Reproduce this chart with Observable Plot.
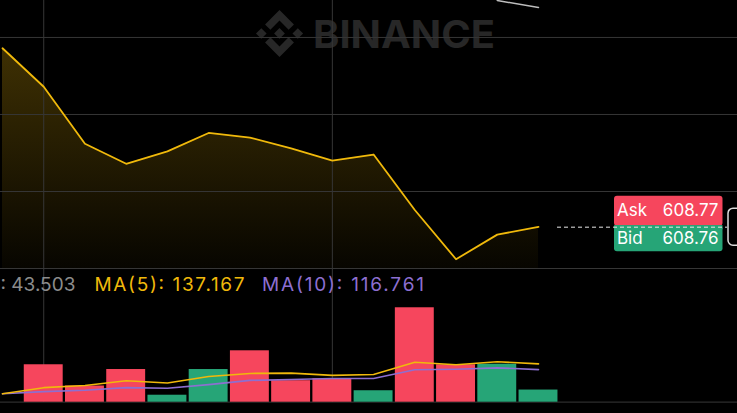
<!DOCTYPE html>
<html>
<head>
<meta charset="utf-8">
<script src="https://cdn.jsdelivr.net/npm/d3@7"></script>
<script src="https://cdn.jsdelivr.net/npm/@observablehq/plot@0.6"></script>
<style>
  html, body { margin: 0; padding: 0; background: #000; }
  #wrap { position: relative; width: 737px; height: 413px; overflow: hidden; background: #000; }
  #wrap > svg { position: absolute; left: 0; }
</style>
</head>
<body>
<div id="wrap"></div>
<script>
// ---- data ----
const candleIndex = [0, 1, 2, 3, 4, 5, 6, 7, 8, 9, 10, 11, 12, 13];
const closePrices = [609.93, 609.68, 609.31, 609.18, 609.26, 609.38, 609.35, 609.28, 609.20, 609.24, 608.88, 608.56, 608.72, 608.77];
const volumes     = [null, 134, 58, 117, 25, 117, 184, 77, 84, 41, 338, 134, 136, 43.503];
const candleSide  = ["down", "down", "down", "down", "up", "up", "down", "down", "down", "up", "down", "down", "up", "up"];
const ma5Values   = [30, 52, 60, 77, 69, 92, 103, 104, 96, 99, 143, 134, 145, 137.167];
const ma10Values  = [30, 38, 43, 52, 50, 63, 78, 81, 85, 85, 116, 118, 123, 116.761];
const upperIndex  = [12, 13];
const upperValues = [610.24, 610.195];
const priceTicks  = [608.5, 609, 609.5, 610];
const timeTicks   = [1, 8];
const askPrice = 608.77, bidPrice = 608.76;
const legendVol = "43.503", legendMA5 = "MA(5): 137.167", legendMA10 = "MA(10): 116.761";

const GOLD = "#F0B90B", RED = "#F6465D", GREEN = "#26A577", PURPLE = "#8D6FD1", GRID = "#363636";

const rows = candleIndex.map((i, k) => ({i, price: closePrices[k], vol: volumes[k], side: candleSide[k], ma5: ma5Values[k], ma10: ma10Values[k]}));
const volRows = rows.filter(d => d.vol != null);
const upperRows = upperIndex.map((i, k) => ({i, price: upperValues[k]}));

const wrap = document.getElementById("wrap");

// ---- watermark (bottom layer) ----
const wm = d3.create("svg").attr("width", 737).attr("height", 413).style("top", "0px");
wm.append("g").attr("transform", `translate(256,10) scale(${47 / 126.61})`).attr("fill", "#272727")
  .call(g => {
    g.append("path").attr("d", "M38.73 53.2l24.59-24.58 24.6 24.6 14.3-14.31L63.32 0 24.42 38.9l14.31 14.3zM0 63.31l14.3-14.31 14.31 14.31-14.31 14.3zm38.73 10.11l24.59 24.59 24.6-24.6 14.31 14.29-38.9 38.91-38.91-38.88-.02-.02zm59.58-10.1l14.3-14.31 14.31 14.3-14.31 14.31z");
    g.append("path").attr("d", "M77.83 63.3L63.32 48.78 52.59 59.51l-1.24 1.23-2.54 2.54 14.51 14.5 14.51-14.47z");
  });
wm.append("text").attr("x", 313).attr("y", 47.5).attr("font-family", "Inter, 'Open Sans', sans-serif")
  .attr("font-size", 38).attr("font-weight", 700).attr("fill", "#272727")
  .attr("textLength", 182).attr("lengthAdjust", "spacingAndGlyphs").text("BINANCE");
wrap.appendChild(wm.node());

// ---- price panel ----
const pricePlot = Plot.plot({
  width: 737, height: 269, margin: 0,
  x: {domain: [0, 13], range: [2, 538], axis: null},
  y: {domain: [608.5, 610.24], range: [268, 0], axis: null},
  style: {background: "transparent", overflow: "visible"},
  marks: [
    Plot.areaY(rows, {x: "i", y1: 608.5, y2: "price", fill: "url(#goldFade)"}),
    Plot.ruleY(priceTicks, {stroke: GRID, strokeWidth: 1}),
    Plot.ruleX(timeTicks, {stroke: GRID, strokeWidth: 1}),
    Plot.lineY(rows, {x: "i", y: "price", stroke: GOLD, strokeWidth: 1.8}),
    Plot.lineY(upperRows, {x: "i", y: "price", stroke: "#bdbdbd", strokeWidth: 1.5})
  ]
});
d3.select(pricePlot).insert("defs", ":first-child").html(
  `<linearGradient id="goldFade" x1="0" y1="0" x2="0" y2="1">
     <stop offset="0" stop-color="${GOLD}" stop-opacity="0.26"/>
     <stop offset="1" stop-color="${GOLD}" stop-opacity="0.03"/>
   </linearGradient>`);
pricePlot.style.top = "0px";
wrap.appendChild(pricePlot);

// ---- volume panel ----
const volPlot = Plot.plot({
  width: 737, height: 144, margin: 0,
  x: {domain: [0, 13], range: [2, 538], axis: null},
  y: {domain: [0, 475], range: [132.7, 0], axis: null},
  style: {background: "transparent", overflow: "visible"},
  marks: [
    Plot.ruleX(timeTicks, {y1: 0, y2: 475, stroke: GRID}),
    Plot.ruleY([0], {stroke: "#2c2c2c", strokeWidth: 1.2}),
    Plot.rectY(volRows, {x1: d => d.i - 0.472, x2: d => d.i + 0.472, y1: 0, y2: "vol",
      fill: d => d.side === "up" ? GREEN : RED}),
    Plot.lineY(rows, {x: "i", y: "ma10", stroke: PURPLE, strokeWidth: 1.6}),
    Plot.lineY(rows, {x: "i", y: "ma5", stroke: GOLD, strokeWidth: 1.6})
  ]
});
volPlot.style.top = "269px";
wrap.appendChild(volPlot);

// ---- top overlay: legend, ask/bid ----
const yPrice = pricePlot.scale("y");
const xPrice = pricePlot.scale("x");
const yMid = yPrice.apply((askPrice + bidPrice) / 2);
const ov = d3.create("svg").attr("width", 737).attr("height", 413).style("top", "0px")
  .attr("font-family", "Inter, 'Open Sans', sans-serif");

ov.append("text").attr("x", 0.5).attr("y", 290.7).attr("font-size", 19)
  .attr("fill", "#8c8c8c").text(": " + legendVol);
ov.append("text").attr("x", 94.5).attr("y", 290.7).attr("font-size", 19)
  .attr("fill", GOLD).attr("textLength", 150).attr("lengthAdjust", "spacing").text(legendMA5);
ov.append("text").attr("x", 262).attr("y", 290.7).attr("font-size", 19)
  .attr("fill", PURPLE).attr("textLength", 162).attr("lengthAdjust", "spacing").text(legendMA10);

// ask / bid boxes
ov.append("rect").attr("x", 614).attr("y", yMid - 31.5).attr("width", 108.5).attr("height", 30).attr("rx", 3).attr("fill", RED);
ov.append("rect").attr("x", 614).attr("y", yMid - 2).attr("width", 108.5).attr("height", 26).attr("rx", 3).attr("fill", GREEN);
ov.append("rect").attr("x", 614).attr("y", yMid - 2).attr("width", 108.5).attr("height", 4).attr("fill", GREEN);
const tAsk = yMid - 11, tBid = yMid + 17;
ov.append("text").attr("x", 617).attr("y", tAsk).attr("font-size", 17).attr("fill", "#fff").text("Ask");
ov.append("text").attr("x", 718.5).attr("y", tAsk).attr("text-anchor", "end").attr("font-size", 17).attr("fill", "#fff").text(askPrice.toFixed(2));
ov.append("text").attr("x", 617).attr("y", tBid).attr("font-size", 17).attr("fill", "#fff").text("Bid");
ov.append("text").attr("x", 718.5).attr("y", tBid).attr("text-anchor", "end").attr("font-size", 17).attr("fill", "#fff").text(bidPrice.toFixed(2));
// dashed price line
ov.append("line").attr("x1", xPrice.apply(13) + 19).attr("x2", 727).attr("y1", yMid).attr("y2", yMid)
  .attr("stroke", "#e8e8e8").attr("stroke-width", 1).attr("stroke-dasharray", "4,3");
// partially visible axis label box at right edge
ov.append("rect").attr("x", 728).attr("y", yMid - 19).attr("width", 24).attr("height", 37).attr("rx", 5)
  .attr("fill", "#000").attr("stroke", "#dcdcdc").attr("stroke-width", 1.5);
wrap.appendChild(ov.node());
</script>
</body>
</html>
